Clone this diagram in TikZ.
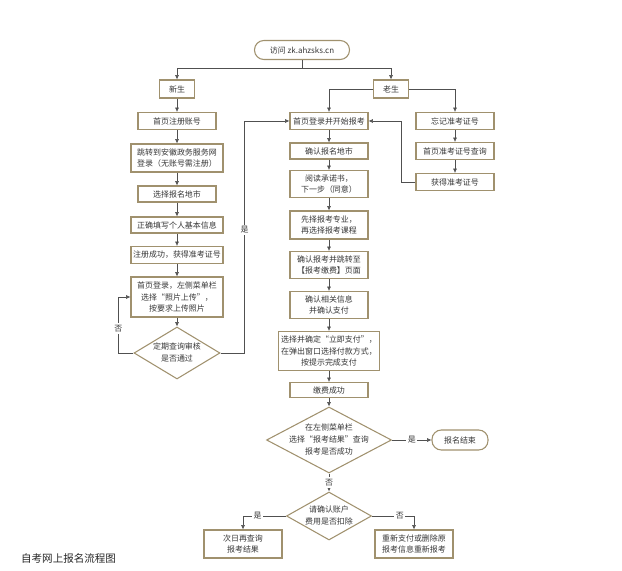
\documentclass[tikz,border=0pt]{standalone}
\usepackage{fontspec}
\setmainfont{Noto Sans CJK SC}
\usetikzlibrary{arrows.meta,shapes.geometric,positioning}
\definecolor{boxline}{RGB}{160,145,110}
\definecolor{conn}{RGB}{80,80,80}
\definecolor{txt}{RGB}{55,55,55}
\newcommand{\dlines}[1]{\makebox[0pt]{\begin{tabular}{@{}c@{}}#1\end{tabular}}}

\begin{document}
\begin{tikzpicture}[
    x=0.03cm, y=-0.03cm,
    font=\fontsize{6.8}{10}\selectfont, text=txt,
    >={Latex[length=1.3mm,width=1.2mm]},
    box/.style={draw=boxline, line width=0.9pt, fill=white, align=center, inner sep=1pt, minimum width=2.34cm, minimum height=0.51cm},
    wbox/.style={box, minimum width=2.76cm},
    term/.style={box, rounded corners=0.28cm},
    decision/.style={diamond, draw=boxline, line width=0.9pt, inner sep=0pt, fill=white},
    arr/.style={->, draw=conn, line width=0.5pt},
    lab/.style={fill=white, inner sep=1.5pt},
]
\useasboundingbox (0,0) rectangle (622,571);

% entry
\node[term, minimum width=2.85cm, minimum height=0.57cm] (start) at (302,50) {访问 zk.ahzsks.cn};
\node[box, minimum width=1.05cm, minimum height=0.54cm] (newstu) at (177,89) {新生};
\node[box, minimum width=1.05cm, minimum height=0.54cm] (oldstu) at (391,89) {老生};

% new students
\node[box] (reg) at (177,121) {首页注册账号};
\node[wbox, minimum height=0.84cm] (jump) at (177,158) {跳转到安徽政务服务网\\登录（无账号需注册）};
\node[box, minimum height=0.48cm] (city) at (177,194) {选择报名地市};
\node[wbox, minimum height=0.48cm] (info) at (177,225) {正确填写个人基本信息};
\node[wbox] (regok) at (177,255) {注册成功，获得准考证号};
\node[wbox, minimum height=1.2cm] (photo) at (177,297) {首页登录，左侧菜单栏\\选择“照片上传”，\\按要求上传照片};
\node[decision, minimum width=2.58cm, minimum height=1.56cm] (audit) at (177,353) {\dlines{定期查询审核\\是否通过}};

% registration
\node[box] (login) at (329,121) {首页登录并开始报考};
\node[box, minimum height=0.48cm] (cfmcity) at (329,151) {确认报名地市};
\node[box, minimum height=0.81cm] (promise) at (329,184) {阅读承诺书，\\下一步（同意）};
\node[box, minimum height=0.84cm] (major) at (329,225) {先择报考专业，\\再选择报考课程};
\node[box, minimum height=0.81cm] (topay) at (329,265) {确认报考并跳转至\\【报考缴费】页面};
\node[box, minimum height=0.81cm] (cfminfo) at (329,305) {确认相关信息\\并确认支付};
\node[box, minimum width=3.03cm, minimum height=1.17cm] (pay) at (329,351) {选择并确定“立即支付”，\\在弹出窗口选择付款方式，\\按提示完成支付};
\node[box, minimum height=0.45cm] (paid) at (329,390) {缴费成功};
\node[decision, minimum width=3.75cm, minimum height=1.98cm] (result) at (329,440) {\dlines{在左侧菜单栏\\选择“报考结果”查询\\报考是否成功}};
\node[term, minimum width=1.68cm, minimum height=0.6cm] (finish) at (460,440) {报名结束};
\node[decision, minimum width=2.55cm, minimum height=1.44cm] (charged) at (329,516) {\dlines{请确认账户\\费用是否扣除}};
\node[box, minimum height=0.84cm] (nextday) at (243,544) {次日再查询\\报考结果};
\node[box, minimum height=0.84cm] (redo) at (414,544) {重新支付或删除原\\报考信息重新报考};

% old students
\node[box] (forget) at (455,121) {忘记准考证号};
\node[box] (ticketq) at (455,151) {首页准考证号查询};
\node[box] (ticket) at (455,182) {获得准考证号};

\node[anchor=west, font=\fontsize{9}{11}\selectfont, text=black!85] (caption) at (17,558) {自考网上报名流程图};

% straight steps
\foreach \a/\b in {newstu/reg, reg/jump, jump/city, city/info, info/regok, regok/photo, photo/audit,
    login/cfmcity, cfmcity/promise, promise/major, major/topay, topay/cfminfo, cfminfo/pay, pay/paid, paid/result,
    forget/ticketq, ticketq/ticket}
    \draw[arr] (\a) -- (\b);

% branches
\draw[arr] (start.south) -- ++(0,8) -| (newstu.north);
\draw[arr] (start.south) -- ++(0,8) -| (oldstu.north);
\draw[arr] (oldstu.west) -| (login.north);
\draw[arr] (oldstu.east) -| (forget.north);
\draw[arr] (ticket.west) -- ++(-14,0) |- (login.east);
\draw[arr] (audit.west) -- ++(-15,0) |- (photo.west) node[lab, pos=0.22] {否};
\draw[arr] (audit.east) -- ++(24,0) |- (login.west) node[lab, pos=0.265] {是};
\draw[arr] (result.east) -- (finish.west) node[lab, midway] {是};
\draw[arr] (result.south) -- (charged.north) node[lab, midway] {否};
\draw[arr] (charged.west) -| (nextday.north) node[lab, pos=0.33] {是};
\draw[arr] (charged.east) -| (redo.north) node[lab, pos=0.33] {否};
\end{tikzpicture}
\end{document}
